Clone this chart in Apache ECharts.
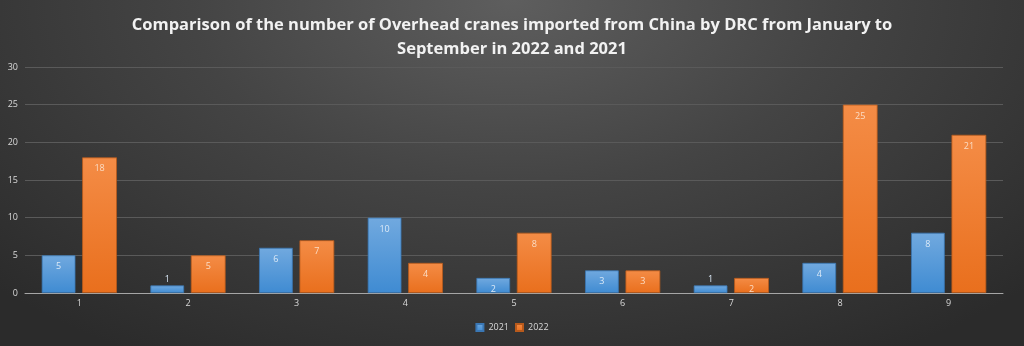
<!DOCTYPE html>
<html>
<head>
<meta charset="utf-8">
<script src="https://cdn.jsdelivr.net/npm/echarts@6/dist/echarts.min.js"></script>
<style>
  html, body { margin: 0; padding: 0; }
  #chart { width: 1024px; height: 346px;
    background: radial-gradient(ellipse 70% 120% at 50% 0%, #5e5e5e 0%, #444 45%, #2b2b2b 100%); }
</style>
</head>
<body>
<div id="chart"></div>
<script>
const months = ['1', '2', '3', '4', '5', '6', '7', '8', '9'];
const values2021 = [5, 1, 6, 10, 2, 3, 1, 4, 8];
const values2022 = [18, 5, 7, 4, 8, 3, 2, 25, 21];
const yTicks = [0, 5, 10, 15, 20, 25, 30];

const chart = echarts.init(document.getElementById('chart'), null, { renderer: 'canvas' });

function barLabel(color) {
  return {
    show: true,
    position: 'insideTop',
    distance: 7,
    color: color,
    fontSize: 9,
    fontFamily: 'Open Sans'
  };
}

// Values too small to hold a label inside get it just above the bar
function seriesData(values) {
  return values.map(v => v <= 1
    ? { value: v, label: { position: 'top', distance: 2 } }
    : v);
}

chart.setOption({
  backgroundColor: 'transparent',
  title: {
    text: 'Comparison of the number of Overhead cranes imported from China by DRC from January to\nSeptember in 2022 and 2021',
    left: 'center',
    top: 8,
    textStyle: {
      color: '#f2f2f2',
      fontFamily: 'Open Sans',
      fontWeight: 'bold',
      fontSize: 16.5,
      lineHeight: 24
    }
  },
  legend: {
    bottom: 9,
    left: 'center',
    itemWidth: 7,
    itemHeight: 7,
    itemGap: 6,
    icon: 'rect',
    textStyle: { color: '#d9d9d9', fontSize: 9, fontFamily: 'Open Sans' }
  },
  grid: { left: 25, right: 21, top: 67, bottom: 53, containLabel: false },
  xAxis: {
    type: 'category',
    data: months,
    axisLine: { lineStyle: { color: '#a6a6a6', width: 1 } },
    axisTick: { show: false },
    axisLabel: { color: '#d9d9d9', fontSize: 9, fontFamily: 'Open Sans', margin: 6 }
  },
  yAxis: {
    type: 'value',
    min: yTicks[0],
    max: yTicks[yTicks.length - 1],
    interval: 5,
    axisLine: { show: false },
    axisTick: { show: false },
    axisLabel: { color: '#d9d9d9', fontSize: 9, fontFamily: 'Open Sans', margin: 7 },
    splitLine: { lineStyle: { color: '#5a5a5a', width: 1 } }
  },
  series: [
    {
      name: '2021',
      type: 'bar',
      barWidth: '31%',
      barGap: '20%',
      data: seriesData(values2021),
      itemStyle: {
        color: new echarts.graphic.LinearGradient(0, 0, 0, 1, [
          { offset: 0, color: '#71a9df' },
          { offset: 1, color: '#3f8bd2' }
        ]),
        borderColor: '#3a77b4',
        borderWidth: 0.8
      },
      label: barLabel('#dbe9f7')
    },
    {
      name: '2022',
      type: 'bar',
      barWidth: '32%',
      data: seriesData(values2022),
      itemStyle: {
        color: new echarts.graphic.LinearGradient(0, 0, 0, 1, [
          { offset: 0, color: '#f48c46' },
          { offset: 1, color: '#e96f1d' }
        ]),
        borderColor: '#b85a1c',
        borderWidth: 0.8
      },
      label: barLabel('#fbdcc4')
    }
  ],
  color: ['#5b9bd5', '#ed7d31']
});
</script>
</body>
</html>
